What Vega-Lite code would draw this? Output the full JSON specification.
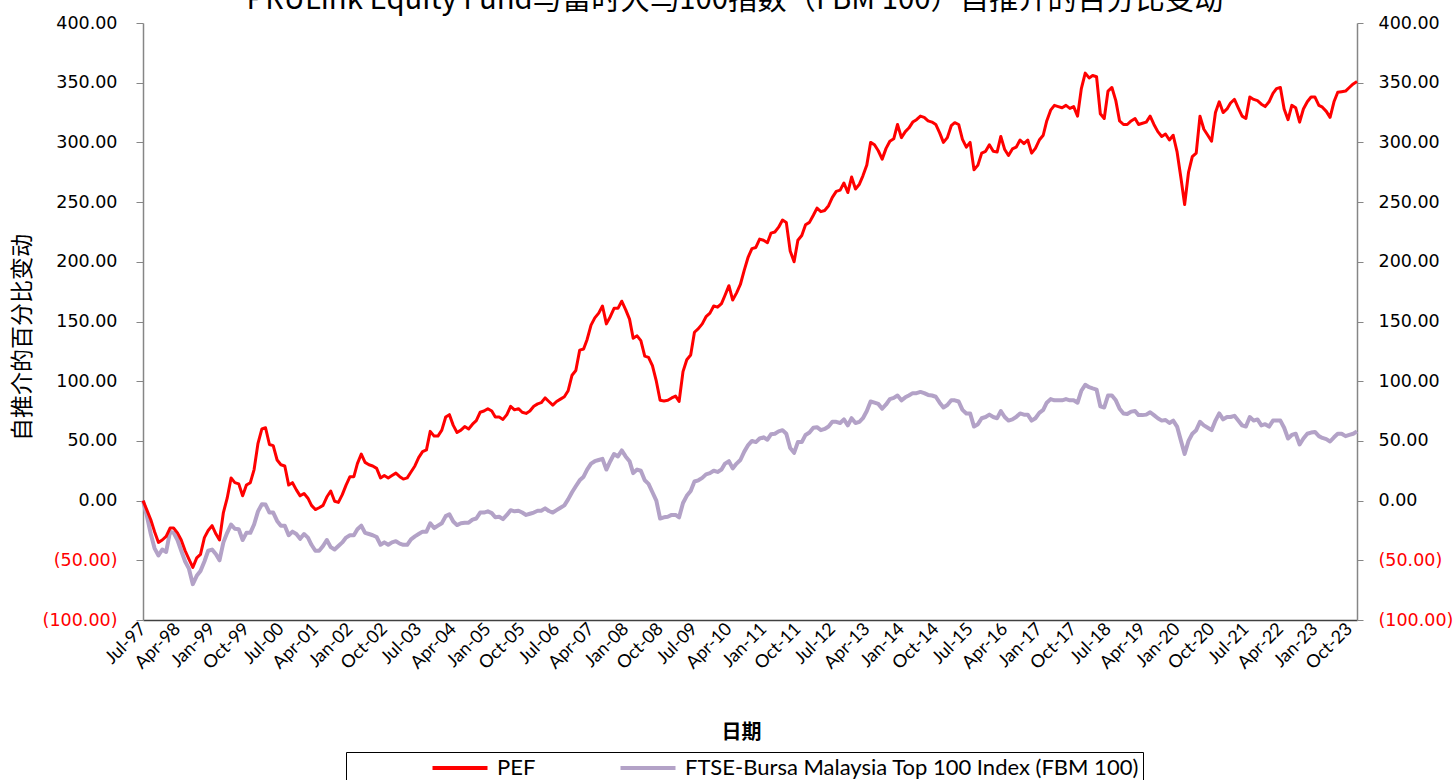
{
"$schema": "https://vega.github.io/schema/vega-lite/v6.json",
"width": 1214, "height": 597,
"autosize": {"type": "none"},
"padding": {"left": 143, "top": 23, "right": 99, "bottom": 160},
"background": "white",
"title": {"text": "PRULink Equity Fund与富时大马100指数（FBM 100）自推介的百分比变动", "font": "Noto Sans CJK SC", "fontSize": 29.3, "fontWeight": "normal", "color": "#000000", "anchor": "middle", "baseline": "alphabetic", "offset": 2, "dx": -15, "dy": 26},
"data": {"format": {"parse": {"date": "date:'%Y-%m'"}}, "values": [
{"date":"1997-07","PEF":0,"FBM":0},{"date":"1997-08","PEF":-8,"FBM":-13},{"date":"1997-09","PEF":-16,"FBM":-28},{"date":"1997-10","PEF":-26,"FBM":-40},{"date":"1997-11","PEF":-35,"FBM":-46},{"date":"1997-12","PEF":-33,"FBM":-41},
{"date":"1998-01","PEF":-30,"FBM":-43},{"date":"1998-02","PEF":-23,"FBM":-26},{"date":"1998-03","PEF":-23,"FBM":-27},{"date":"1998-04","PEF":-27,"FBM":-33},{"date":"1998-05","PEF":-33,"FBM":-42},{"date":"1998-06","PEF":-42,"FBM":-51},{"date":"1998-07","PEF":-49,"FBM":-57},{"date":"1998-08","PEF":-56,"FBM":-70},{"date":"1998-09","PEF":-48,"FBM":-63},{"date":"1998-10","PEF":-45,"FBM":-59},{"date":"1998-11","PEF":-31,"FBM":-51},{"date":"1998-12","PEF":-25,"FBM":-42},
{"date":"1999-01","PEF":-21,"FBM":-41},{"date":"1999-02","PEF":-28,"FBM":-45},{"date":"1999-03","PEF":-33,"FBM":-50},{"date":"1999-04","PEF":-10,"FBM":-35},{"date":"1999-05","PEF":2,"FBM":-27},{"date":"1999-06","PEF":19,"FBM":-20},{"date":"1999-07","PEF":15,"FBM":-23.6},{"date":"1999-08","PEF":14,"FBM":-24},{"date":"1999-09","PEF":4,"FBM":-33},{"date":"1999-10","PEF":13,"FBM":-27},{"date":"1999-11","PEF":15,"FBM":-27},{"date":"1999-12","PEF":26,"FBM":-20},
{"date":"2000-01","PEF":48,"FBM":-9},{"date":"2000-02","PEF":60,"FBM":-3},{"date":"2000-03","PEF":61,"FBM":-3.3},{"date":"2000-04","PEF":47,"FBM":-10},{"date":"2000-05","PEF":46,"FBM":-10},{"date":"2000-06","PEF":34,"FBM":-17},{"date":"2000-07","PEF":30,"FBM":-21},{"date":"2000-08","PEF":29,"FBM":-21},{"date":"2000-09","PEF":13,"FBM":-29},{"date":"2000-10","PEF":15,"FBM":-26},{"date":"2000-11","PEF":9,"FBM":-28},{"date":"2000-12","PEF":4,"FBM":-32},
{"date":"2001-01","PEF":6,"FBM":-28},{"date":"2001-02","PEF":2,"FBM":-31},{"date":"2001-03","PEF":-4,"FBM":-37},{"date":"2001-04","PEF":-7.5,"FBM":-42},{"date":"2001-05","PEF":-6,"FBM":-42},{"date":"2001-06","PEF":-4,"FBM":-38},{"date":"2001-07","PEF":3,"FBM":-33},{"date":"2001-08","PEF":8,"FBM":-39},{"date":"2001-09","PEF":-0.5,"FBM":-41},{"date":"2001-10","PEF":-1.5,"FBM":-38},{"date":"2001-11","PEF":5,"FBM":-35},{"date":"2001-12","PEF":13,"FBM":-31},
{"date":"2002-01","PEF":20,"FBM":-29},{"date":"2002-02","PEF":20,"FBM":-29},{"date":"2002-03","PEF":31,"FBM":-24},{"date":"2002-04","PEF":39,"FBM":-21},{"date":"2002-05","PEF":32,"FBM":-27},{"date":"2002-06","PEF":30,"FBM":-28},{"date":"2002-07","PEF":29,"FBM":-29},{"date":"2002-08","PEF":27,"FBM":-30.5},{"date":"2002-09","PEF":19,"FBM":-37},{"date":"2002-10","PEF":21,"FBM":-35},{"date":"2002-11","PEF":19,"FBM":-37},{"date":"2002-12","PEF":21,"FBM":-35},
{"date":"2003-01","PEF":23,"FBM":-34},{"date":"2003-02","PEF":20,"FBM":-36},{"date":"2003-03","PEF":18,"FBM":-37},{"date":"2003-04","PEF":19,"FBM":-37},{"date":"2003-05","PEF":24,"FBM":-32.5},{"date":"2003-06","PEF":29,"FBM":-30},{"date":"2003-07","PEF":36,"FBM":-28},{"date":"2003-08","PEF":41,"FBM":-26},{"date":"2003-09","PEF":42.5,"FBM":-26},{"date":"2003-10","PEF":58,"FBM":-19},{"date":"2003-11","PEF":54,"FBM":-23},{"date":"2003-12","PEF":54,"FBM":-21},
{"date":"2004-01","PEF":59,"FBM":-19},{"date":"2004-02","PEF":70,"FBM":-13},{"date":"2004-03","PEF":72,"FBM":-11.5},{"date":"2004-04","PEF":63,"FBM":-17.5},{"date":"2004-05","PEF":57,"FBM":-20.5},{"date":"2004-06","PEF":59,"FBM":-19},{"date":"2004-07","PEF":62,"FBM":-18.5},{"date":"2004-08","PEF":60,"FBM":-18.5},{"date":"2004-09","PEF":64,"FBM":-16},{"date":"2004-10","PEF":67,"FBM":-15},{"date":"2004-11","PEF":74,"FBM":-10},{"date":"2004-12","PEF":75,"FBM":-10},
{"date":"2005-01","PEF":77,"FBM":-9},{"date":"2005-02","PEF":75,"FBM":-10.5},{"date":"2005-03","PEF":70,"FBM":-14},{"date":"2005-04","PEF":70,"FBM":-13.5},{"date":"2005-05","PEF":68,"FBM":-15.5},{"date":"2005-06","PEF":72,"FBM":-12},{"date":"2005-07","PEF":79,"FBM":-8},{"date":"2005-08","PEF":76,"FBM":-9},{"date":"2005-09","PEF":77,"FBM":-8.5},{"date":"2005-10","PEF":74,"FBM":-10},{"date":"2005-11","PEF":73,"FBM":-12},{"date":"2005-12","PEF":75,"FBM":-11},
{"date":"2006-01","PEF":79,"FBM":-10},{"date":"2006-02","PEF":81,"FBM":-8.5},{"date":"2006-03","PEF":82,"FBM":-8.5},{"date":"2006-04","PEF":86,"FBM":-6.5},{"date":"2006-05","PEF":83,"FBM":-8.7},{"date":"2006-06","PEF":80,"FBM":-10},{"date":"2006-07","PEF":83,"FBM":-8},{"date":"2006-08","PEF":85,"FBM":-6},{"date":"2006-09","PEF":87,"FBM":-4},{"date":"2006-10","PEF":92,"FBM":1},{"date":"2006-11","PEF":105,"FBM":7},{"date":"2006-12","PEF":109,"FBM":12},
{"date":"2007-01","PEF":126,"FBM":17},{"date":"2007-02","PEF":127,"FBM":20},{"date":"2007-03","PEF":135,"FBM":26},{"date":"2007-04","PEF":147,"FBM":31},{"date":"2007-05","PEF":153,"FBM":33},{"date":"2007-06","PEF":157,"FBM":34},{"date":"2007-07","PEF":163,"FBM":35},{"date":"2007-08","PEF":148,"FBM":26},{"date":"2007-09","PEF":154,"FBM":33},{"date":"2007-10","PEF":161,"FBM":39},{"date":"2007-11","PEF":161,"FBM":37},{"date":"2007-12","PEF":167,"FBM":42},
{"date":"2008-01","PEF":160,"FBM":37},{"date":"2008-02","PEF":152,"FBM":33},{"date":"2008-03","PEF":136,"FBM":23},{"date":"2008-04","PEF":138,"FBM":26},{"date":"2008-05","PEF":134,"FBM":25},{"date":"2008-06","PEF":121,"FBM":17},{"date":"2008-07","PEF":120,"FBM":14},{"date":"2008-08","PEF":113,"FBM":7},{"date":"2008-09","PEF":100,"FBM":0},{"date":"2008-10","PEF":84,"FBM":-15},{"date":"2008-11","PEF":83.5,"FBM":-14},{"date":"2008-12","PEF":84,"FBM":-13.5},
{"date":"2009-01","PEF":86,"FBM":-12},{"date":"2009-02","PEF":87.5,"FBM":-12},{"date":"2009-03","PEF":83,"FBM":-14},{"date":"2009-04","PEF":108,"FBM":-2},{"date":"2009-05","PEF":118,"FBM":4},{"date":"2009-06","PEF":122,"FBM":8},{"date":"2009-07","PEF":141,"FBM":16},{"date":"2009-08","PEF":144,"FBM":17},{"date":"2009-09","PEF":148,"FBM":19},{"date":"2009-10","PEF":154,"FBM":22},{"date":"2009-11","PEF":157,"FBM":23},{"date":"2009-12","PEF":163,"FBM":25},
{"date":"2010-01","PEF":162,"FBM":24},{"date":"2010-02","PEF":165,"FBM":26},{"date":"2010-03","PEF":172,"FBM":31},{"date":"2010-04","PEF":180,"FBM":33},{"date":"2010-05","PEF":168,"FBM":27},{"date":"2010-06","PEF":174,"FBM":31},{"date":"2010-07","PEF":181,"FBM":34},{"date":"2010-08","PEF":193,"FBM":41},{"date":"2010-09","PEF":204,"FBM":46.5},{"date":"2010-10","PEF":211,"FBM":50},{"date":"2010-11","PEF":212,"FBM":49},{"date":"2010-12","PEF":219,"FBM":52},
{"date":"2011-01","PEF":218,"FBM":53},{"date":"2011-02","PEF":216,"FBM":51},{"date":"2011-03","PEF":224,"FBM":55.5},{"date":"2011-04","PEF":225,"FBM":56},{"date":"2011-05","PEF":229,"FBM":58},{"date":"2011-06","PEF":235,"FBM":59},{"date":"2011-07","PEF":233,"FBM":56},{"date":"2011-08","PEF":209,"FBM":44},{"date":"2011-09","PEF":200,"FBM":40},{"date":"2011-10","PEF":218,"FBM":49},{"date":"2011-11","PEF":222,"FBM":49},{"date":"2011-12","PEF":231,"FBM":55},
{"date":"2012-01","PEF":233,"FBM":57},{"date":"2012-02","PEF":239,"FBM":61},{"date":"2012-03","PEF":245,"FBM":61.5},{"date":"2012-04","PEF":242,"FBM":59},{"date":"2012-05","PEF":243,"FBM":60},{"date":"2012-06","PEF":247,"FBM":62},{"date":"2012-07","PEF":254,"FBM":66},{"date":"2012-08","PEF":259,"FBM":66},{"date":"2012-09","PEF":260,"FBM":65},{"date":"2012-10","PEF":266,"FBM":68},{"date":"2012-11","PEF":258,"FBM":63},{"date":"2012-12","PEF":271,"FBM":69},
{"date":"2013-01","PEF":261,"FBM":65},{"date":"2013-02","PEF":265,"FBM":66},{"date":"2013-03","PEF":272,"FBM":69},{"date":"2013-04","PEF":281,"FBM":75},{"date":"2013-05","PEF":300,"FBM":83},{"date":"2013-06","PEF":298,"FBM":82},{"date":"2013-07","PEF":293,"FBM":81},{"date":"2013-08","PEF":286,"FBM":77},{"date":"2013-09","PEF":295,"FBM":80.5},{"date":"2013-10","PEF":301,"FBM":85},{"date":"2013-11","PEF":303,"FBM":86},{"date":"2013-12","PEF":315,"FBM":88},
{"date":"2014-01","PEF":304,"FBM":84},{"date":"2014-02","PEF":309,"FBM":86.5},{"date":"2014-03","PEF":312,"FBM":88},{"date":"2014-04","PEF":317,"FBM":90},{"date":"2014-05","PEF":319,"FBM":90},{"date":"2014-06","PEF":322,"FBM":91},{"date":"2014-07","PEF":321,"FBM":90},{"date":"2014-08","PEF":318,"FBM":88.5},{"date":"2014-09","PEF":317,"FBM":88},{"date":"2014-10","PEF":315,"FBM":87},{"date":"2014-11","PEF":308,"FBM":82},{"date":"2014-12","PEF":300,"FBM":78},
{"date":"2015-01","PEF":304,"FBM":80},{"date":"2015-02","PEF":314,"FBM":84},{"date":"2015-03","PEF":316.5,"FBM":84},{"date":"2015-04","PEF":315,"FBM":83},{"date":"2015-05","PEF":302.5,"FBM":76},{"date":"2015-06","PEF":296,"FBM":73},{"date":"2015-07","PEF":300,"FBM":73},{"date":"2015-08","PEF":277,"FBM":62},{"date":"2015-09","PEF":281,"FBM":64},{"date":"2015-10","PEF":291,"FBM":69},{"date":"2015-11","PEF":292.5,"FBM":70},{"date":"2015-12","PEF":298,"FBM":72},
{"date":"2016-01","PEF":292.5,"FBM":70},{"date":"2016-02","PEF":292,"FBM":69},{"date":"2016-03","PEF":305,"FBM":75},{"date":"2016-04","PEF":294,"FBM":70},{"date":"2016-05","PEF":289,"FBM":67},{"date":"2016-06","PEF":294.5,"FBM":68},{"date":"2016-07","PEF":296,"FBM":70},{"date":"2016-08","PEF":302,"FBM":73},{"date":"2016-09","PEF":299,"FBM":72},{"date":"2016-10","PEF":302,"FBM":72},{"date":"2016-11","PEF":291,"FBM":67},{"date":"2016-12","PEF":295,"FBM":69},
{"date":"2017-01","PEF":302,"FBM":73.5},{"date":"2017-02","PEF":306,"FBM":76},{"date":"2017-03","PEF":318,"FBM":82},{"date":"2017-04","PEF":327,"FBM":85},{"date":"2017-05","PEF":331,"FBM":84},{"date":"2017-06","PEF":330,"FBM":84},{"date":"2017-07","PEF":329,"FBM":84},{"date":"2017-08","PEF":331,"FBM":85},{"date":"2017-09","PEF":328.5,"FBM":84},{"date":"2017-10","PEF":330,"FBM":84},{"date":"2017-11","PEF":322,"FBM":82},{"date":"2017-12","PEF":345,"FBM":92},
{"date":"2018-01","PEF":358,"FBM":97},{"date":"2018-02","PEF":354,"FBM":95},{"date":"2018-03","PEF":356,"FBM":94},{"date":"2018-04","PEF":355,"FBM":93},{"date":"2018-05","PEF":324,"FBM":79},{"date":"2018-06","PEF":320,"FBM":78},{"date":"2018-07","PEF":343,"FBM":88},{"date":"2018-08","PEF":346,"FBM":88},{"date":"2018-09","PEF":335,"FBM":84},{"date":"2018-10","PEF":318,"FBM":77},{"date":"2018-11","PEF":315,"FBM":73},{"date":"2018-12","PEF":315,"FBM":72.5},
{"date":"2019-01","PEF":318,"FBM":74.5},{"date":"2019-02","PEF":320,"FBM":75},{"date":"2019-03","PEF":315,"FBM":71.6},{"date":"2019-04","PEF":316,"FBM":71.6},{"date":"2019-05","PEF":317,"FBM":72},{"date":"2019-06","PEF":322,"FBM":74},{"date":"2019-07","PEF":315,"FBM":71.6},{"date":"2019-08","PEF":309,"FBM":69},{"date":"2019-09","PEF":305,"FBM":67},{"date":"2019-10","PEF":307,"FBM":67.5},{"date":"2019-11","PEF":302,"FBM":65},{"date":"2019-12","PEF":306,"FBM":67},
{"date":"2020-01","PEF":292,"FBM":62},{"date":"2020-02","PEF":270,"FBM":50},{"date":"2020-03","PEF":248,"FBM":39},{"date":"2020-04","PEF":275,"FBM":50},{"date":"2020-05","PEF":288,"FBM":56},{"date":"2020-06","PEF":291,"FBM":59},{"date":"2020-07","PEF":322,"FBM":66},{"date":"2020-08","PEF":311,"FBM":63},{"date":"2020-09","PEF":306,"FBM":61},{"date":"2020-10","PEF":301,"FBM":59},{"date":"2020-11","PEF":325,"FBM":67},{"date":"2020-12","PEF":334,"FBM":73},
{"date":"2021-01","PEF":325,"FBM":68},{"date":"2021-02","PEF":328,"FBM":70},{"date":"2021-03","PEF":333,"FBM":70},{"date":"2021-04","PEF":336,"FBM":71},{"date":"2021-05","PEF":329,"FBM":67},{"date":"2021-06","PEF":322,"FBM":63},{"date":"2021-07","PEF":320,"FBM":62},{"date":"2021-08","PEF":338,"FBM":70},{"date":"2021-09","PEF":336,"FBM":67},{"date":"2021-10","PEF":335,"FBM":68},{"date":"2021-11","PEF":332,"FBM":63},{"date":"2021-12","PEF":330,"FBM":64},
{"date":"2022-01","PEF":334,"FBM":62},{"date":"2022-02","PEF":341,"FBM":67},{"date":"2022-03","PEF":345,"FBM":67},{"date":"2022-04","PEF":346,"FBM":67},{"date":"2022-05","PEF":328,"FBM":61},{"date":"2022-06","PEF":319,"FBM":52},{"date":"2022-07","PEF":331,"FBM":55},{"date":"2022-08","PEF":329,"FBM":56},{"date":"2022-09","PEF":317,"FBM":47},{"date":"2022-10","PEF":328,"FBM":52},{"date":"2022-11","PEF":334,"FBM":56},{"date":"2022-12","PEF":338,"FBM":57},
{"date":"2023-01","PEF":338,"FBM":57.5},{"date":"2023-02","PEF":331,"FBM":54},{"date":"2023-03","PEF":329.5,"FBM":52.5},{"date":"2023-04","PEF":326,"FBM":51.5},{"date":"2023-05","PEF":321,"FBM":49.5},{"date":"2023-06","PEF":334,"FBM":53},{"date":"2023-07","PEF":342,"FBM":56},{"date":"2023-08","PEF":342.5,"FBM":56},{"date":"2023-09","PEF":343,"FBM":54},{"date":"2023-10","PEF":346,"FBM":55},{"date":"2023-11","PEF":349,"FBM":56},{"date":"2023-12","PEF":351,"FBM":58}
]},
"encoding": {
  "x": {"field": "date", "type": "temporal",
   "scale": {"domain": [{"year":1997,"month":7,"date":1},{"year":2023,"month":12,"date":1}]},
   "axis": {"values": [{"year":1997,"month":7,"date":1},{"year":1998,"month":4,"date":1},{"year":1999,"month":1,"date":1},{"year":1999,"month":10,"date":1},{"year":2000,"month":7,"date":1},{"year":2001,"month":4,"date":1},{"year":2002,"month":1,"date":1},{"year":2002,"month":10,"date":1},{"year":2003,"month":7,"date":1},{"year":2004,"month":4,"date":1},{"year":2005,"month":1,"date":1},{"year":2005,"month":10,"date":1},{"year":2006,"month":7,"date":1},{"year":2007,"month":4,"date":1},{"year":2008,"month":1,"date":1},{"year":2008,"month":10,"date":1},{"year":2009,"month":7,"date":1},{"year":2010,"month":4,"date":1},{"year":2011,"month":1,"date":1},{"year":2011,"month":10,"date":1},{"year":2012,"month":7,"date":1},{"year":2013,"month":4,"date":1},{"year":2014,"month":1,"date":1},{"year":2014,"month":10,"date":1},{"year":2015,"month":7,"date":1},{"year":2016,"month":4,"date":1},{"year":2017,"month":1,"date":1},{"year":2017,"month":10,"date":1},{"year":2018,"month":7,"date":1},{"year":2019,"month":4,"date":1},{"year":2020,"month":1,"date":1},{"year":2020,"month":10,"date":1},{"year":2021,"month":7,"date":1},{"year":2022,"month":4,"date":1},{"year":2023,"month":1,"date":1},{"year":2023,"month":10,"date":1}],
    "format": "%b-%y", "labelAngle": -45, "labelAlign": "right", "labelBaseline": "middle",
    "labelFont": "Lato", "labelFontSize": 18, "labelColor": "#000000", "labelPadding": 6,
    "labelOverlap": false, "labelFlush": false, "labelBound": false, "ticks": false, "grid": false,
    "domainColor": "#404040", "domainWidth": 1.5,
    "title": "日期", "titleFont": "Noto Sans CJK SC", "titleFontSize": 20, "titleFontWeight": "bold", "titleColor": "#000000",
    "titleX": 598, "titleY": 112, "titleAlign": "center", "titleBaseline": "middle"}}
},
"layer": [
{"mark": {"type": "line", "strokeWidth": 4, "strokeJoin": "round"},
 "encoding": {
  "y": {"field": "FBM", "type": "quantitative",
   "scale": {"domain": [-100, 400], "nice": false, "zero": false},
   "axis": {"orient": "left", "values": [-100,-50,0,50,100,150,200,250,300,350,400],
    "labelExpr": "datum.value < 0 ? '(' + format(-datum.value, '.2f') + ')' : format(datum.value, '.2f')",
    "labelColor": {"condition": {"test": "datum.value < 0", "value": "#FF0000"}, "value": "#000000"},
    "labelFont": "DejaVu Sans", "labelFontSize": 17.5, "labelPadding": 19,
    "tickSize": 7, "tickColor": "#868686", "domainColor": "#868686", "domainWidth": 1.5, "grid": false,
    "title": "自推介的百分比变动", "titleFont": "Noto Sans CJK SC", "titleFontSize": 23, "titleFontWeight": "normal", "titleColor": "#000000",
    "titleX": -121, "titleY": 314, "titleAngle": 270, "titleAlign": "center", "titleBaseline": "middle"}},
  "color": {"datum": "FBM", "type": "nominal",
   "scale": {"domain": ["PEF", "FBM"], "range": ["#FF0000", "#B3A2C7"]},
   "legend": {"orient": "none", "legendX": 203, "legendY": 729, "direction": "horizontal", "title": null,
    "symbolType": "M-2.75,0L2.75,0", "symbolSize": 400, "symbolStrokeWidth": 4,
    "labelFont": "Lato", "labelFontSize": 22, "labelColor": "#000000", "labelOffset": 25, "labelLimit": 700,
    "columnPadding": 2, "symbolOffset": 98, "padding": 4,
    "strokeColor": "#000000", "fillColor": "#FFFFFF",
    "labelExpr": "datum.label == 'FBM' ? 'FTSE-Bursa Malaysia Top 100 Index (FBM 100)' : datum.label"}}
 }},
{"mark": {"type": "line", "strokeWidth": 3, "strokeJoin": "round"},
 "encoding": {
  "y": {"field": "PEF", "type": "quantitative",
   "axis": {"orient": "right", "values": [-100,-50,0,50,100,150,200,250,300,350,400],
    "labelExpr": "datum.value < 0 ? '(' + format(-datum.value, '.2f') + ')' : format(datum.value, '.2f')",
    "labelColor": {"condition": {"test": "datum.value < 0", "value": "#FF0000"}, "value": "#000000"},
    "labelFont": "DejaVu Sans", "labelFontSize": 17.5, "labelPadding": 15,
    "tickSize": 6, "tickColor": "#868686", "domainColor": "#868686", "domainWidth": 1.5, "grid": false,
    "title": null}},
  "color": {"datum": "PEF", "type": "nominal"}
 }}
],
"resolve": {"axis": {"y": "independent"}},
"config": {"view": {"stroke": null}, "axisX": {"labelOverlap": false}}
}
